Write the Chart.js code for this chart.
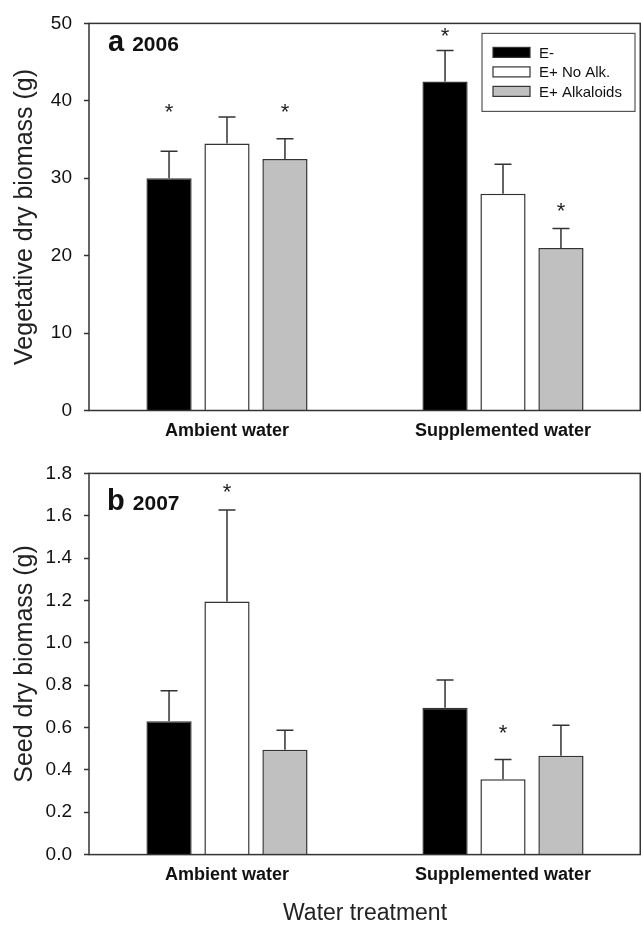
<!DOCTYPE html>
<html>
<head>
<meta charset="utf-8">
<script src="https://cdn.jsdelivr.net/npm/chart.js@4.4.1/dist/chart.umd.min.js"></script>
<style>
  html, body { margin: 0; padding: 0; background: #fff; overflow: hidden; }
  canvas { display: block; }
</style>
</head>
<body>
<canvas id="chart2006" width="641" height="450"></canvas>
<canvas id="chart2007" width="641" height="475"></canvas>
<script>
// Endophyte / water treatment biomass figure (two panels)

// CATEGORIES AND SERIES
const groups = ['Ambient water', 'Supplemented water'];
const seriesNames = ['E-', 'E+ No Alk.', 'E+ Alkaloids'];
const seriesColors = ['#000000', '#ffffff', '#c0c0c0'];

// PANEL a - 2006 vegetative dry biomass (g)
const veg2006 = [
  [30.0, 42.5],   // E-
  [34.5, 28.0],   // E+ No Alk.
  [32.5, 21.0]    // E+ Alkaloids
];
const vegErr2006 = [
  [3.5, 4.0],
  [3.4, 3.8],
  [2.6, 2.5]
];
// asterisk heights (null = no asterisk)
const vegStar2006 = [
  [39.2, 49.0],
  [null, null],
  [39.2, 26.4]
];
const vegTicks = [0, 10, 20, 30, 40, 50];

// PANEL b - 2007 seed dry biomass (g)
const seed2007 = [
  [0.63, 0.694],
  [1.195, 0.356],
  [0.495, 0.467]
];
const seedErr2007 = [
  [0.144, 0.13],
  [0.432, 0.093],
  [0.092, 0.144]
];
const seedStar2007 = [
  [null, null],
  [1.735, 0.60],
  [null, null]
];
const seedTicks = [0, 0.2, 0.4, 0.6, 0.8, 1.0, 1.2, 1.4, 1.6, 1.8];

const FONT = "'Liberation Sans', Arial, sans-serif";
const INK = '#333333';


// ERROR BARS + ASTERISKS + FRAME + PANEL LABEL + LEGEND
const decorPlugin = {
  id: 'decor',
  afterDatasetsDraw(chart) {
    const o = chart.options.plugins.decor;
    const ctx = chart.ctx;
    const yScale = chart.scales.y;
    const area = chart.chartArea;

    ctx.save();
    // error bars (upper only)
    ctx.strokeStyle = INK;
    ctx.lineWidth = 1.5;
    chart.data.datasets.forEach((ds, i) => {
      const meta = chart.getDatasetMeta(i);
      meta.data.forEach((bar, j) => {
        const top = yScale.getPixelForValue(ds.data[j] + o.errors[i][j]);
        ctx.beginPath();
        ctx.moveTo(bar.x, bar.y);
        ctx.lineTo(bar.x, top);
        ctx.moveTo(bar.x - 8.5, top);
        ctx.lineTo(bar.x + 8.5, top);
        ctx.stroke();

        const star = o.stars[i][j];
        if (star !== null) {
          ctx.fillStyle = '#222';
          ctx.font = '22px ' + FONT;
          ctx.textAlign = 'center';
          ctx.textBaseline = 'alphabetic';
          ctx.fillText('*', bar.x, yScale.getPixelForValue(star) + 12);
        }
      });
    });

    // frame round the plot
    ctx.strokeStyle = INK;
    ctx.lineWidth = 1.5;
    ctx.strokeRect(area.left, area.top, area.right - area.left - 0.75, area.bottom - area.top);

    // panel label, e.g. "a 2006"
    ctx.fillStyle = '#111';
    ctx.textAlign = 'left';
    ctx.textBaseline = 'alphabetic';
    ctx.font = 'bold 29px ' + FONT;
    const lx = area.left + o.label.dx;
    const ly = area.top + o.label.dy;
    ctx.fillText(o.label.letter, lx, ly);
    const w = ctx.measureText(o.label.letter + ' ').width;
    ctx.font = 'bold 21px ' + FONT;
    ctx.fillText(o.label.year, lx + w, ly);

    // legend box (panel a only)
    if (o.legend) {
      const bx = area.right - 159, by = area.top + 10;
      ctx.strokeStyle = '#555';
      ctx.lineWidth = 1.2;
      ctx.strokeRect(bx, by, 153, 78);
      ctx.font = '15px ' + FONT;
      ctx.textBaseline = 'middle';
      chart.data.datasets.forEach((ds, i) => {
        const cy = by + 19 + i * 19.5;
        ctx.fillStyle = ds.backgroundColor;
        ctx.fillRect(bx + 11, cy - 5, 37, 10);
        ctx.strokeStyle = INK;
        ctx.strokeRect(bx + 11, cy - 5, 37, 10);
        ctx.fillStyle = '#111';
        ctx.fillText(ds.label, bx + 57, cy + 1);
      });
    }
    ctx.restore();
  }
};


// BUILD ONE PANEL
function buildPanel(id, values, errors, stars, ticks, yTitle, opts) {
  const datasets = seriesNames.map((name, i) => ({
    label: name,
    data: values[i],
    backgroundColor: seriesColors[i],
    borderColor: INK,
    borderWidth: 1.5,
    categoryPercentage: 0.63,
    barPercentage: 0.78
  }));

  return new Chart(document.getElementById(id), {
    type: 'bar',
    data: { labels: groups, datasets },
    plugins: [decorPlugin],
    options: {
      responsive: false,
      animation: false,
      layout: { padding: { top: opts.padTop, right: 0, left: 0, bottom: 0 } },
      plugins: {
        legend: { display: false },
        tooltip: { enabled: false },
        decor: { errors, stars, label: opts.label, legend: opts.legend }
      },
      scales: {
        x: {
          grid: { display: false, drawTicks: false },
          border: { display: false },
          ticks: {
            color: '#111',
            padding: 10,
            font: { family: FONT, size: 18, weight: 'bold' }
          },
          title: {
            display: opts.xTitle !== '',
            text: opts.xTitle,
            color: '#222',
            padding: 0,
            font: { family: FONT, size: 23, lineHeight: 1 }
          },
          afterFit: (s) => { s.height = opts.xHeight; }
        },
        y: {
          min: ticks[0],
          max: ticks[ticks.length - 1],
          afterBuildTicks: (s) => { s.ticks = ticks.map(v => ({ value: v })); },
          grid: {
            display: true,
            drawOnChartArea: false,
            drawTicks: true,
            tickLength: 5,
            tickWidth: 1.5,
            color: INK
          },
          border: { display: false },
          ticks: {
            color: '#111',
            padding: 12,
            font: { family: FONT, size: 19 },
            callback: (v) => opts.decimals ? Number(v).toFixed(opts.decimals) : v
          },
          title: {
            display: true,
            text: yTitle,
            color: '#222',
            padding: { top: 10, bottom: 0 },
            font: { family: FONT, size: 25, lineHeight: 1.2 }
          },
          afterFit: (s) => { s.width = 89; }
        }
      }
    }
  });
}


function init() {
  buildPanel('chart2006', veg2006, vegErr2006, vegStar2006, vegTicks,
    'Vegetative dry biomass (g)', {
      padTop: 23, xHeight: 39.5, xTitle: '', decimals: 0,
      label: { letter: 'a', year: '2006', dx: 19, dy: 28 },
      legend: true
    });
  buildPanel('chart2007', seed2007, seedErr2007, seedStar2007, seedTicks,
    'Seed dry biomass (g)', {
      padTop: 16.7, xHeight: 70.4, xTitle: 'Water treatment', decimals: 1,
      label: { letter: 'b', year: '2007', dx: 18, dy: 37 },
      legend: false
    });
}

document.addEventListener('DOMContentLoaded', init);
</script>
</body>
</html>
